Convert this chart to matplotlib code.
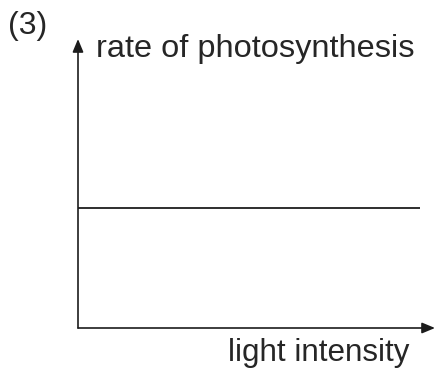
import matplotlib.pyplot as plt

# constant rate of photosynthesis regardless of light intensity
light_intensity = [0, 10]
rate = [5, 5]

W, H = 437, 378
fig = plt.figure(figsize=(W / 100, H / 100), dpi=100)
plt.rcParams['font.family'] = ['Liberation Sans', 'DejaVu Sans']

# axes placed in pixel terms: origin at (78, 328), arrow tips at x=435 and y=39
ax = fig.add_axes([78 / W, (H - 328) / H, (435 - 78) / W, (328 - 39) / H])
ax.plot(light_intensity, rate, color="#1c1c1c", lw=1.3, solid_capstyle="butt")
ax.set_xlim(0, 10.44)
ax.set_ylim(0, 12)
for s in ax.spines.values():
    s.set_visible(False)
ax.set_xticks([])
ax.set_yticks([])
ax.patch.set_alpha(0)

arrow = dict(arrowstyle="-|>,head_length=0.6,head_width=0.25", mutation_scale=13,
             color="#1c1c1c", lw=1.2, shrinkA=0, shrinkB=0, facecolor="#777777")
ax.annotate("", xy=(1, 0), xytext=(0, 0), xycoords="axes fraction", arrowprops=arrow)
ax.annotate("", xy=(0, 1), xytext=(0, 0), xycoords="axes fraction", arrowprops=arrow)

col = "#262626"
fig.text(8 / W, 1 - 34 / H, "(3)", fontsize=23, va="baseline", ha="left", color=col)
fig.text(96 / W, 1 - 57 / H, "rate of photosynthesis", fontsize=23.4, va="baseline", ha="left", color=col)
fig.text(409 / W, 1 - 361 / H, "light intensity", fontsize=22.6, va="baseline", ha="right", color=col)

plt.savefig("out.png", dpi=100, facecolor="white")
